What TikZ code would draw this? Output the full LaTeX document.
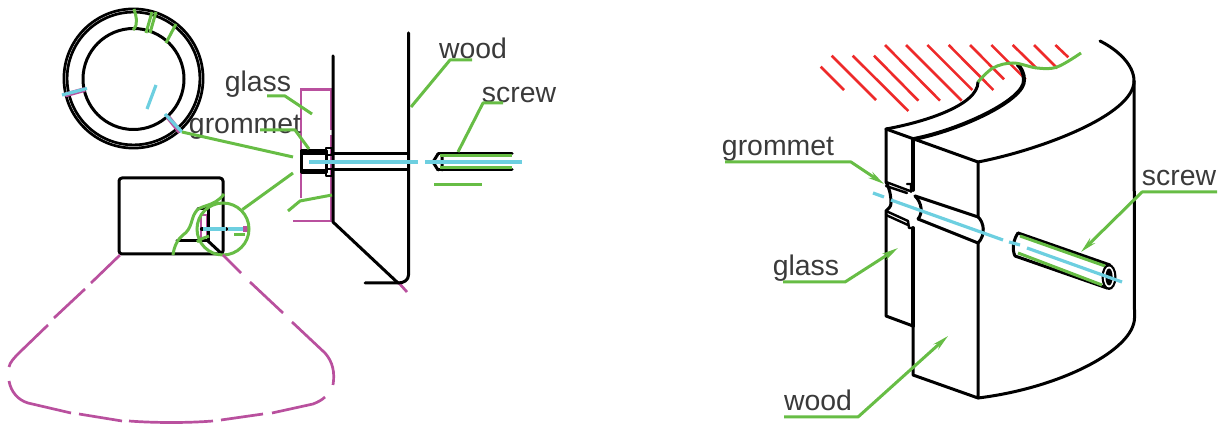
\documentclass[tikz,border=0pt]{standalone}
\usepackage{fontspec}
\setmainfont{Liberation Sans}
\usetikzlibrary{arrows.meta}
\definecolor{lg}{HTML}{67BD45}
\definecolor{cy}{HTML}{6DCFE0}
\definecolor{mg}{HTML}{B9509E}
\definecolor{rd}{HTML}{EE2A2A}
\definecolor{tx}{HTML}{3A3A3A}
\tikzset{
  blk/.style={draw=black,line width=1.5pt,line join=round,line cap=round},
  grn/.style={draw=lg,line width=1.5pt,line join=round},
  cyn/.style={draw=cy,line width=1.6pt},
  mag/.style={draw=mg,line width=1.35pt},
  hatch/.style={draw=rd,line width=1.3pt},
  lbl/.style={text=tx,font=\fontsize{14.2}{16}\selectfont,inner sep=0pt},
  tipped/.style={-{Stealth[length=8pt,width=3.5pt]}}
}
\begin{document}
\begin{tikzpicture}[x=0.5pt,y=-0.5pt]
\useasboundingbox (0,0) rectangle (1225,426);
% ---------- left: ring
\draw[blk,line width=1.35pt] (133.5,78.5) circle (69.6);
\draw[blk,line width=1.35pt] (133.5,78.5) circle (66.4);
\draw[blk] (133.5,79) circle (50.5);
\draw[grn] (134,9) .. controls (136,16) and (139,24) .. (133,30);
\draw[grn] (152,12) -- (146,33);
\draw[grn] (156,12) -- (150,33);
\draw[grn] (176,24) -- (166,43);
\draw[mag,line width=2.4pt] (65,95) -- (85,89.5);
\draw[cyn] (62,95) -- (87,88.5);
\draw[mag,line width=2.4pt] (168,117) -- (180,132);
\draw[cyn] (165,114) -- (182,132);
\draw[cyn] (156,85) -- (147,109);
% ---------- left: small box
\draw[blk,rounded corners=1.5pt] (119,254) -- (119,178) -- (223,178) -- (223,254) -- cycle;
\draw[mag] (201,240) -- (201,215) -- (207,215) -- (207,236);
\draw[blk] (198,209) -- (208,209) -- (208,241) -- (177,241);
\draw[blk] (208,241) -- (222,254);
\draw[blk,line width=2.2pt] (202,229) -- (226,229);
\draw[cyn] (203,229) -- (226,229) (228,229) -- (232,229);
\draw[cyn,line width=2.2pt] (232,229) -- (243,229);
\draw[mg,line width=2.6pt] (243,229) -- (248,229);
\draw[grn] (234,235) -- (245,235);
\draw[grn] (173,255) .. controls (174,246) and (178,239) .. (183,235) .. controls (192,229) and (191,219) .. (195,213) .. controls (199,204) and (214,208) .. (224,194);
\draw[grn] (197,242) .. controls (201,238) and (205,238) .. (209,236);
\node[circle,draw=lg,line width=1.5pt,minimum size=26pt,inner sep=0pt] (zoomring) at (223,229) {};
% ---------- left: fan
\draw[mag] (120,255) -- (91,283);
\draw[mag] (85,289) -- (54,318);
\draw[mag] (48,325) -- (20,352) .. controls (14,358) and (10,362) .. (9,367);
\draw[mag] (9,381) .. controls (11,392) and (18,400) .. (28,403) -- (71,413);
\draw[mag] (79,414) -- (122,421);
\draw[mag] (129,421) .. controls (155,423) and (188,423) .. (213,421);
\draw[mag] (221,420) -- (263,414);
\draw[mag] (272,413) -- (313,404) .. controls (318,402) and (322,400) .. (325,397);
\draw[mag] (333,385) .. controls (335,373) and (333,362) .. (325,353) -- (292,322);
\draw[mag] (283,313) -- (250,282);
\draw[mag] (241,273) -- (223,255);
% ---------- left: section
\draw[mag] (331,130) -- (331,89.5) -- (301,89.5) -- (301,198);
\draw[mag] (331,135) -- (331,221) -- (293,221);
\draw[mag] (398,282) -- (407,292);
\draw[blk] (333,56) -- (333,222) -- (398,283);
\draw[blk] (408.5,33) -- (408.5,275) .. controls (408.5,280) and (404,283) .. (398,283) -- (365,283);
\draw[blk] (332,154) -- (408,154) (332,169.5) -- (408,169.5);
\draw[blk,fill=white] (301,151) -- (326,151) -- (326,173) -- (301,173) -- cycle;
\draw[blk,line width=1.1pt] (303,153.5) -- (326,153.5) (303,170.5) -- (326,170.5);
\draw[blk,line width=1.3pt] (326,152) -- (326,148) -- (332,148) -- (332,155) -- (326,155) -- cycle;
\draw[blk,line width=1.3pt] (326,172) -- (326,176) -- (332,176) -- (332,169) -- (326,169) -- cycle;
\draw[blk] (438,154) -- (512,154) (438,170) -- (512,170);
\draw[blk] (438,154) -- (433,162) -- (438,170) (442,155) -- (442,170);
\draw[grn] (440,156) -- (512,156) (440,168) -- (512,168);
\draw[cyn] (309,162) -- (418,162) (425,162) -- (522,162);
\draw[grn] (434,185) -- (482,185);
\draw[grn] (288,211) -- (300,201) -- (332,195);
% leaders left
\node[lbl] (lglass) at (258,84) {glass};
\node[lbl] (lgrom) at (245,127) {grommet};
\node[lbl] (lwood) at (473,48) {wood};
\node[lbl] (lscrew) at (519,95) {screw};
\coordinate (g1a) at (267,96); \coordinate (g1b) at (285,96); \coordinate (g1c) at (312,114);
\coordinate (g2a) at (260,130); \coordinate (g2b) at (295,130); \coordinate (g2c) at (309,149);
\coordinate (w1a) at (472,60); \coordinate (w1b) at (450,60); \coordinate (w1c) at (411,107);
\coordinate (s1a) at (503,103); \coordinate (s1b) at (483,103); \coordinate (s1c) at (458,152);
\coordinate (ringend) at (182,132); \coordinate (secA) at (293,157); \coordinate (secB) at (293,173);
\draw[grn] (g1a) -- (g1b) -- (g1c);
\draw[grn] (g2a) -- (g2b) -- (g2c);
\draw[grn] (w1a) -- (w1b) -- (w1c);
\draw[grn] (s1a) -- (s1b) -- (s1c);
\draw[grn] (ringend) -- (secA);
\draw[grn] (zoomring.north east) -- (secB);
% ---------- right: hatching
\foreach \a/\b/\c/\d in {62/110/132/180,95/77/228/210,158/77/325/243,222/77/355/212,255/45/420/212,318/45/485/212,382/45/517/180,446/45/580/180,510/45/612/148,574/45/677/148,638/45/710/115,702/45/772/115,766/45/805/82}
  \draw[hatch] ({800+\a/3},{30+\b/3}) -- ({800+\c/3},{30+\d/3});
% ---------- right: block
\draw[blk] (886,129) .. controls (925,122) and (978,105) .. (978,82);
\draw[blk,line width=2pt] (914,139) .. controls (960,130) and (1025,100) .. (1024,80) .. controls (1024,73) and (1021,68) .. (1018,65);
\draw[blk] (978,162) .. controls (1040,150) and (1134,115) .. (1134,81) .. controls (1134,65) and (1118,50) .. (1100,41);
\draw[blk] (1134,81) -- (1134.5,318) .. controls (1134,350) and (1060,388) .. (978,398);
\draw[blk] (886,129) -- (978,162) -- (978,217);
\draw[blk] (978,243) -- (978,398) -- (913,375) -- (913,228);
\draw[blk,line width=1.9pt] (913,139) -- (913,190);
\draw[blk,line width=1.9pt] (913,228) -- (913,326);
\draw[blk] (886,129) -- (886,182) .. controls (889,187) and (891,195) .. (891,203) .. controls (891,207) and (888,209) .. (886,211) -- (886,316) -- (913,326);
% grommet
\draw[blk,line width=1.2pt] (886,182) -- (910,191) (886,186) -- (907,193) (907,184) -- (911,184) -- (911,192);
\draw[blk,line width=1.2pt] (886,211) -- (908,221) -- (909,228) -- (913,228) (886,215) -- (908,225);
\draw[blk] (915,196) .. controls (922,203) and (923,213) .. (918,219);
\draw[blk] (915,196) -- (978,217) .. controls (984,222) and (986,235) .. (978,243) -- (918,219);
% screw
\draw[blk] (1018,233) -- (1110,265) (1015,256) -- (1107,288);
\draw[blk] (1018,233) .. controls (1013,240) and (1012,250) .. (1015,256);
\draw[grn] (1020,236) -- (1105,266) (1018,253) -- (1102,285);
\fill[black] (1109,277) ellipse (7.5 and 13);
\fill[white] (1109,277) ellipse (5.2 and 10.5);
\fill[black] (1109,277) ellipse (3.6 and 8.5);
% cyan axis
\draw[cyn] (873,193) -- (884,197) (891,200) -- (1003,240) (1009,242) -- (1020,245) (1027,248) -- (1122,282);
% wave
\draw[grn] plot[smooth,tension=.6] coordinates {(978,82) (993,68) (1013,63) (1037,68) (1057,67) (1081,53)};
% leaders right
\node[lbl] (rgrom) at (778,149) {grommet};
\node[lbl] (rscrew) at (1179,178) {screw};
\node[lbl] (rglass) at (806,268) {glass};
\node[lbl] (rwood) at (818,400) {wood};
\coordinate (a1) at (725,162); \coordinate (a2) at (851,162); \coordinate (a3) at (884,184);
\coordinate (b1) at (1217,192); \coordinate (b2) at (1142,192); \coordinate (b3) at (1081,252);
\coordinate (c1) at (783,282); \coordinate (c2) at (845,282); \coordinate (c3) at (898,248);
\coordinate (d1) at (784,417); \coordinate (d2) at (858,417); \coordinate (d3) at (948,336);
\draw[grn,tipped] (a1) -- (a2) -- (a3);
\draw[grn,tipped] (b1) -- (b2) -- (b3);
\draw[grn,tipped] (c1) -- (c2) -- (c3);
\draw[grn,tipped] (d1) -- (d2) -- (d3);
\end{tikzpicture}
\end{document}
